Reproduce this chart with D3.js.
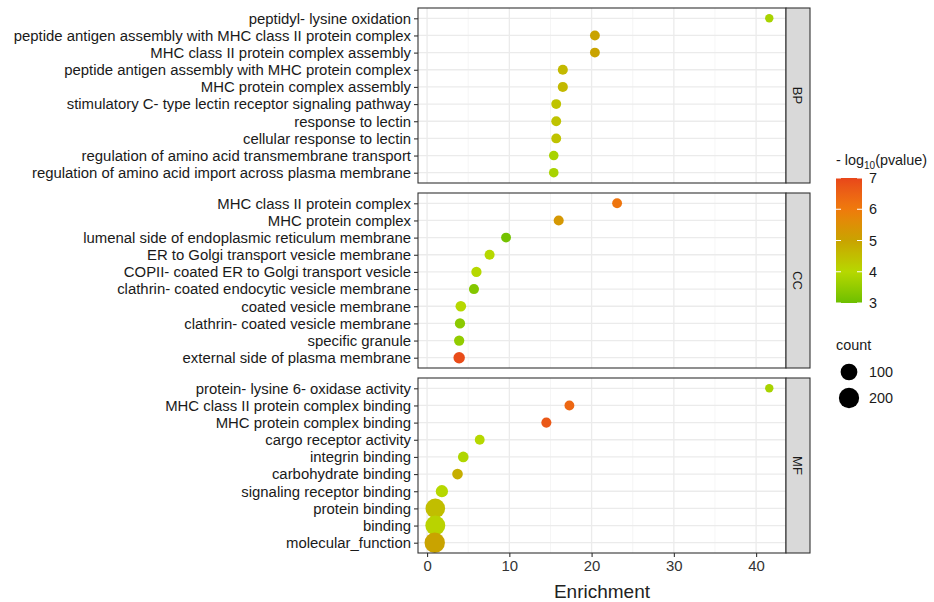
<!DOCTYPE html>
<html>
<head>
<meta charset="utf-8">
<script src="https://cdn.jsdelivr.net/npm/d3@7"></script>
<style>
body{margin:0;background:#fff}
text{font-family:"Liberation Sans",Arial,sans-serif}
</style>
</head>
<body>
<div id="chart"></div>
<script>
// panels and terms (top to bottom as drawn)
var panels = ["BP", "CC", "MF"];

var bpTerms = ["peptidyl- lysine oxidation","peptide antigen assembly with MHC class II protein complex","MHC class II protein complex assembly","peptide antigen assembly with MHC protein complex","MHC protein complex assembly","stimulatory C- type lectin receptor signaling pathway","response to lectin","cellular response to lectin","regulation of amino acid transmembrane transport","regulation of amino acid import across plasma membrane"];
var bpEnrich = [41.6, 20.4, 20.4, 16.5, 16.5, 15.7, 15.7, 15.7, 15.4, 15.4];
var bpLogp   = [3.8, 5.0, 5.0, 4.6, 4.6, 4.4, 4.4, 4.4, 3.8, 3.8];
var bpCount  = [3, 6, 6, 7, 7, 6, 6, 6, 5, 5];

var ccTerms = ["MHC class II protein complex","MHC protein complex","lumenal side of endoplasmic reticulum membrane","ER to Golgi transport vesicle membrane","COPII- coated ER to Golgi transport vesicle","clathrin- coated endocytic vesicle membrane","coated vesicle membrane","clathrin- coated vesicle membrane","specific granule","external side of plasma membrane"];
var ccEnrich = [23.1, 16.0, 9.6, 7.6, 6.0, 5.7, 4.1, 4.0, 3.9, 3.9];
var ccLogp   = [6.1, 5.3, 3.1, 4.0, 4.0, 3.3, 4.0, 3.4, 3.5, 6.9];
var ccCount  = [6, 7, 6, 7, 8, 7, 10, 8, 8, 16];

var mfTerms = ["protein- lysine 6- oxidase activity","MHC class II protein complex binding","MHC protein complex binding","cargo receptor activity","integrin binding","carbohydrate binding","signaling receptor binding","protein binding","binding","molecular_function"];
var mfEnrich = [41.6, 17.3, 14.5, 6.4, 4.4, 3.7, 1.8, 1.0, 1.0, 0.93];
var mfLogp   = [3.8, 6.4, 6.7, 4.0, 3.9, 4.8, 4.0, 4.5, 4.1, 5.0];
var mfCount  = [3, 6, 7, 6, 10, 10, 24, 180, 190, 205];

var xTicks = [0, 10, 20, 30, 40];
var xMinor = [5, 15, 25, 35];
var colorTicks = [3, 4, 5, 6, 7];
var countTicks = [100, 200];

function rows(terms, enrich, logp, count) {
  return terms.map(function(t, i) {
    return {term: t, enrich: enrich[i], logp: logp[i], count: count[i]};
  });
}
var panelData = [
  rows(bpTerms, bpEnrich, bpLogp, bpCount),
  rows(ccTerms, ccEnrich, ccLogp, ccCount),
  rows(mfTerms, mfEnrich, mfLogp, mfCount)
];
var all = panelData[0].concat(panelData[1], panelData[2]);

var W = 934, H = 602;
var left = 418, right = 786, stripW = 24;
var panelTop = [8, 193, 378], panelH = 175;
var labelFont = "14.9px", legendFont = "14.4px";

var svg = d3.select("#chart").append("svg")
  .attr("width", W).attr("height", H);

// x scale with ggplot-like 5% expansion
var xmin = d3.min(all, function(d){ return d.enrich; });
var xmax = d3.max(all, function(d){ return d.enrich; });
var pad = (xmax - xmin) * 0.05;
var x = d3.scaleLinear().domain([xmin - pad, xmax + pad]).range([left, right]);

// colour: green -> yellow -> gold -> orange -> red
var color = d3.scaleLinear()
  .domain([3, 4, 5, 6, 7])
  .range(["#6cbf00", "#b6d800", "#c9a300", "#ef7a0c", "#e8461a"])
  .interpolate(d3.interpolateLab)
  .clamp(true);

// size: area style like ggplot scale_size
var cmin = d3.min(all, function(d){ return d.count; });
var cmax = d3.max(all, function(d){ return d.count; });
var sizeT = d3.scaleLinear().domain([cmin, cmax]).range([0, 1]);
function radius(c) { return 4.2 + 6 * Math.sqrt(Math.max(0, sizeT(c))); }

panels.forEach(function(p, pi) {
  var top = panelTop[pi], bottom = top + panelH;
  var data = panelData[pi];
  var y = d3.scalePoint().domain(data.map(function(d){ return d.term; }))
    .range([top, bottom]).padding(0.6);

  var g = svg.append("g");
  g.append("rect").attr("x", left).attr("y", top)
    .attr("width", right - left).attr("height", panelH).attr("fill", "#fff");

  // minor grid
  g.selectAll(".minor").data(xMinor).enter().append("line")
    .attr("x1", function(d){ return x(d); }).attr("x2", function(d){ return x(d); })
    .attr("y1", top).attr("y2", bottom)
    .attr("stroke", "#f2f2f2").attr("stroke-width", 0.8);
  // major grid
  g.selectAll(".major").data(xTicks).enter().append("line")
    .attr("x1", function(d){ return x(d); }).attr("x2", function(d){ return x(d); })
    .attr("y1", top).attr("y2", bottom)
    .attr("stroke", "#ebebeb").attr("stroke-width", 1.3);
  g.selectAll(".hgrid").data(data).enter().append("line")
    .attr("x1", left).attr("x2", right)
    .attr("y1", function(d){ return y(d.term); }).attr("y2", function(d){ return y(d.term); })
    .attr("stroke", "#ebebeb").attr("stroke-width", 1.3);

  // points
  g.selectAll(".dot").data(data).enter().append("circle")
    .attr("cx", function(d){ return x(d.enrich); })
    .attr("cy", function(d){ return y(d.term); })
    .attr("r", function(d){ return radius(d.count); })
    .attr("fill", function(d){ return color(d.logp); });

  // border
  g.append("rect").attr("x", left).attr("y", top)
    .attr("width", right - left).attr("height", panelH)
    .attr("fill", "none").attr("stroke", "#333").attr("stroke-width", 1.1);

  // y axis
  var ya = g.append("g").attr("transform", "translate(" + left + ",0)")
    .call(d3.axisLeft(y).tickSize(4).tickPadding(3));
  ya.select(".domain").remove();
  ya.selectAll("line").attr("stroke", "#333").attr("stroke-width", 1.1);
  ya.selectAll("text").attr("fill", "#1a1a1a").style("font-size", labelFont)
    .style("font-family", '"Liberation Sans",Arial,sans-serif');

  // strip
  g.append("rect").attr("x", right).attr("y", top)
    .attr("width", stripW).attr("height", panelH)
    .attr("fill", "#d9d9d9").attr("stroke", "#333").attr("stroke-width", 1.1);
  g.append("text")
    .attr("transform", "translate(" + (right + stripW / 2) + "," + (top + panelH / 2) + ") rotate(90)")
    .attr("text-anchor", "middle").attr("dy", "0.35em")
    .attr("fill", "#1a1a1a").style("font-size", "13px").text(p);

  if (pi === panels.length - 1) {
    var xa = g.append("g").attr("transform", "translate(0," + bottom + ")")
      .call(d3.axisBottom(x).tickValues(xTicks).tickSize(4).tickPadding(3));
    xa.select(".domain").remove();
    xa.selectAll("line").attr("stroke", "#333").attr("stroke-width", 1.1);
    xa.selectAll("text").attr("fill", "#333").style("font-size", labelFont)
      .style("font-family", '"Liberation Sans",Arial,sans-serif');
  }
});

// x title
svg.append("text").attr("x", (left + right) / 2).attr("y", 598)
  .attr("text-anchor", "middle").attr("fill", "#222")
  .style("font-size", "19px").text("Enrichment");

// colour legend
var lx = 836, barW = 26, barTop = 178, barBot = 303;
var ttl = svg.append("text").attr("x", lx).attr("y", 165)
  .attr("fill", "#1a1a1a").style("font-size", legendFont);
ttl.append("tspan").text("- log");
ttl.append("tspan").attr("dy", 4).style("font-size", "10px").text("10");
ttl.append("tspan").attr("dy", -4).text("(pvalue)");

var cy = d3.scaleLinear().domain([3, 7]).range([barBot, barTop]);
var grad = svg.append("defs").append("linearGradient")
  .attr("id", "cbar").attr("x1", 0).attr("y1", 1).attr("x2", 0).attr("y2", 0);
d3.range(0, 21).forEach(function(i) {
  var v = 3 + i * 0.2;
  grad.append("stop").attr("offset", (i / 20)).attr("stop-color", color(v));
});
svg.append("rect").attr("x", lx).attr("y", barTop).attr("width", barW)
  .attr("height", barBot - barTop).attr("fill", "url(#cbar)");
colorTicks.forEach(function(t) {
  svg.append("line").attr("x1", lx).attr("x2", lx + 5)
    .attr("y1", cy(t)).attr("y2", cy(t)).attr("stroke", "#fff").attr("stroke-width", 1);
  svg.append("line").attr("x1", lx + barW - 5).attr("x2", lx + barW)
    .attr("y1", cy(t)).attr("y2", cy(t)).attr("stroke", "#fff").attr("stroke-width", 1);
  svg.append("text").attr("x", lx + barW + 7).attr("y", cy(t)).attr("dy", "0.35em")
    .attr("fill", "#1a1a1a").style("font-size", legendFont).text(t);
});

// size legend
svg.append("text").attr("x", lx).attr("y", 350)
  .attr("fill", "#1a1a1a").style("font-size", legendFont).text("count");
var sy = [372, 398];
countTicks.forEach(function(c, i) {
  svg.append("circle").attr("cx", lx + barW / 2).attr("cy", sy[i])
    .attr("r", radius(c)).attr("fill", "#000");
  svg.append("text").attr("x", lx + barW + 7).attr("y", sy[i]).attr("dy", "0.35em")
    .attr("fill", "#1a1a1a").style("font-size", legendFont).text(c);
});
</script>
</body>
</html>
